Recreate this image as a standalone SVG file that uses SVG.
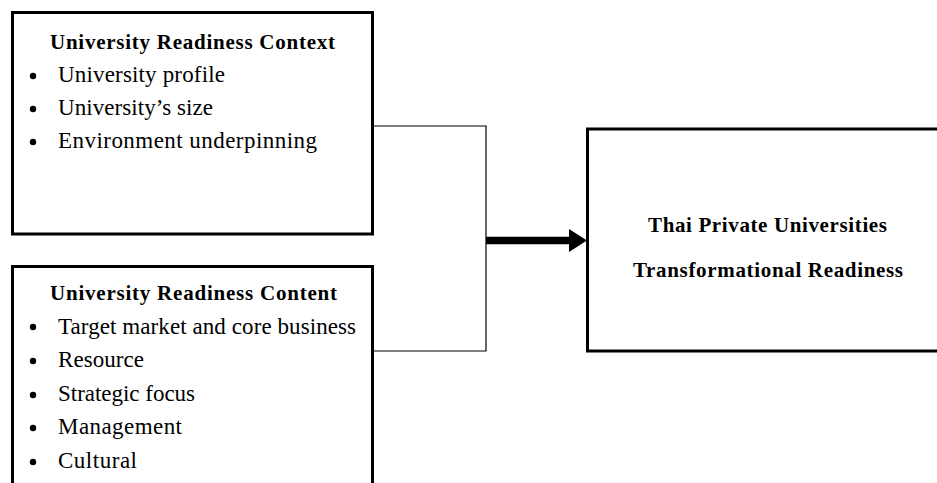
<svg xmlns="http://www.w3.org/2000/svg" width="937" height="483" viewBox="0 0 937 483">
<style>
.box{fill:#fff;stroke:#000;stroke-width:3}
.t{font-family:"Liberation Serif","Times New Roman",serif;font-size:23px;fill:#000}
.b{font-weight:bold;font-size:21px}
.bul{fill:#000}
.thin{fill:none;stroke:#000;stroke-width:1.2}
</style>
<rect width="937" height="483" fill="#fff"/>
<g id="connectors">
<polyline class="thin" points="373,126 486,126 486,351 373,351"/>
<line x1="486" y1="240.5" x2="572" y2="240.5" stroke="#000" stroke-width="7.5"/>
<polygon points="569,229 587,240.5 569,252" fill="#000"/>
</g>
<g id="context">
<rect class="box" x="12.5" y="12.5" width="360" height="221.5"/>
<text class="t b" x="50" y="49" textLength="285">University Readiness Context</text>
<circle class="bul" cx="33" cy="76" r="3.2"/>
<circle class="bul" cx="33" cy="109" r="3.2"/>
<circle class="bul" cx="33" cy="142" r="3.2"/>
<text class="t" x="58" y="82" textLength="167">University profile</text>
<text class="t" x="58" y="115" textLength="155">University’s size</text>
<text class="t" x="58" y="148" textLength="259">Environment underpinning</text>
</g>
<g id="content">
<rect class="box" x="12.5" y="266.5" width="360" height="230"/>
<text class="t b" x="50" y="300" textLength="287">University Readiness Content</text>
<circle class="bul" cx="33" cy="327" r="3.2"/>
<circle class="bul" cx="33" cy="361" r="3.2"/>
<circle class="bul" cx="33" cy="395" r="3.2"/>
<circle class="bul" cx="33" cy="428" r="3.2"/>
<circle class="bul" cx="33" cy="462" r="3.2"/>
<text class="t" x="58" y="334" textLength="298">Target market and core business</text>
<text class="t" x="58" y="367" textLength="86">Resource</text>
<text class="t" x="58" y="401" textLength="137">Strategic focus</text>
<text class="t" x="58" y="434" textLength="124">Management</text>
<text class="t" x="58" y="468" textLength="79">Cultural</text>
</g>
<g id="readiness">
<rect class="box" x="587.5" y="129" width="360" height="222"/>
<text class="t b" x="648" y="232" textLength="239">Thai Private Universities</text>
<text class="t b" x="633" y="277" textLength="270">Transformational Readiness</text>
</g>
</svg>
